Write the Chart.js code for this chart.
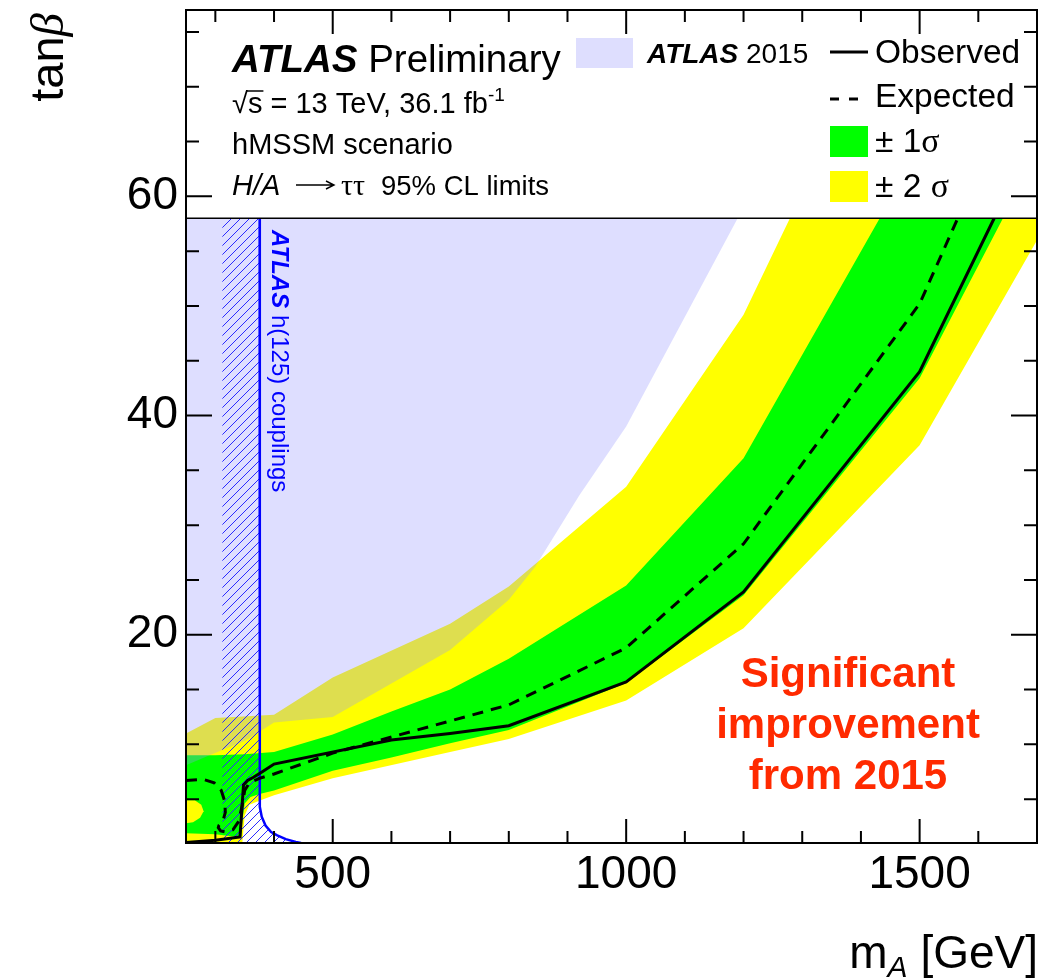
<!DOCTYPE html>
<html>
<head>
<meta charset="utf-8">
<title>hMSSM H/A → ττ exclusion</title>
<script src="https://cdn.jsdelivr.net/npm/chart.js@4.4.1/dist/chart.umd.min.js"></script>
<style>
  html, body { margin: 0; padding: 0; background: #fff; }
  #c { display: block; }
</style>
</head>
<body>
<canvas id="c" width="1063" height="980"></canvas>
<script>
// ---- 95% CL limits on tanβ versus m_A (GeV), hMSSM scenario ----

// observed limit
const massObserved = [250, 300, 342, 348, 355, 365, 380, 400, 600, 700, 800, 1000, 1200, 1500, 1627];
const tanbObserved = [1.05, 1.25, 1.55, 6.3, 6.7, 7.0, 7.5, 8.2, 10.4, 11.0, 11.7, 15.7, 23.9, 44.0, 58];

// expected limit (contour, traced in order)
const massExpected = [250, 280, 298, 310, 316, 317, 313, 306, 305, 309, 318, 330, 340, 346, 350, 358, 375, 400, 500, 800, 1000, 1200, 1500, 1565];
const tanbExpected = [6.7, 6.8, 6.5, 5.8, 4.8, 3.8, 3.0, 2.6, 2.4, 2.1, 2.0, 2.2, 3.0, 4.5, 5.8, 6.5, 6.9, 7.3, 9.2, 13.6, 18.8, 28.3, 50.2, 58];

// ±1σ band: upper edge (left to right), lower edge (right to left)
const massBand1Upper = [250, 300, 350, 400, 500, 600, 700, 800, 1000, 1200, 1432];
const tanbBand1Upper = [9.0, 9.0, 9.1, 9.3, 10.9, 13.0, 15.0, 17.8, 24.5, 36.1, 58];
const massBand1Lower = [1642, 1500, 1200, 1000, 800, 700, 600, 500, 400, 377, 360, 350, 346, 344, 300, 250];
const tanbBand1Lower = [58, 43.4, 23.6, 15.6, 11.3, 10.1, 8.8, 7.6, 5.8, 5.5, 5.2, 4.6, 3.0, 1.5, 1.8, 1.9];

// ±2σ band: upper edge (left to right), lower edge (right to left)
const massBand2Upper = [250, 300, 400, 500, 700, 800, 1000, 1200, 1279];
const tanbBand2Upper = [11.0, 12.4, 12.7, 16.1, 21.0, 24.4, 33.5, 49.2, 58];
const massBand2Lower = [1700, 1700, 1500, 1200, 1000, 800, 700, 500, 400, 377, 358, 350, 346, 250];
const tanbBand2Lower = [58, 56.0, 37.3, 20.6, 14.0, 10.5, 9.3, 6.9, 5.35, 4.9, 4.5, 3.5, 1.0, 1.0];

// ±2σ island at low m_A
const massBand2Island = [250, 262, 274, 280, 276, 265, 250];
const tanbBand2Island = [2.8, 2.9, 3.3, 3.9, 4.5, 4.9, 4.9];

// ATLAS 2015 exclusion (excluded above this boundary)
const mass2015 = [250, 290, 350, 400, 500, 700, 800, 845, 920, 1000, 1190];
const tanb2015 = [8.1, 9.0, 10.3, 12.0, 12.5, 18.6, 23.2, 26.2, 32.7, 39.0, 58];

// ATLAS h(125) couplings exclusion boundary (excluded to the left)
const massH125 = [375.5, 375.5, 376, 379, 385.5, 395, 405.5, 420, 437, 446];
const tanbH125 = [58, 5.5, 4.3, 3.4, 2.6, 2.0, 1.7, 1.35, 1.1, 1.0];
const massH125Edge = [312, 312];
const tanbH125Edge = [58, 1];

// axes
const massRange = [250, 1700];
const tanbRange = [1, 77];
const tanbLegendFloor = 58;
const xMajorTicks = [500, 1000, 1500];
const yMajorTicks = [20, 40, 60];
const xMinorStep = 100;
const yMinorStep = 5;

// ---------------------------------------------------------------
const SANS = '"Liberation Sans", Arial, Helvetica, sans-serif';
const SERIF = '"Liberation Serif", "Times New Roman", serif';

const pts = (xs, ys) => xs.map((x, i) => ({ x, y: ys[i] }));
const clear = 'rgba(0,0,0,0)';

const canvas = document.getElementById('c');
const ctx0 = canvas.getContext('2d');

function hatchPattern() {
  const s = 9;
  const c = document.createElement('canvas');
  c.width = s; c.height = s;
  const g = c.getContext('2d');
  g.strokeStyle = '#2a2aff';
  g.lineWidth = 1;
  g.beginPath();
  g.moveTo(0, s); g.lineTo(s, 0);
  g.moveTo(-2, 2); g.lineTo(2, -2);
  g.moveTo(s - 2, s + 2); g.lineTo(s + 2, s - 2);
  g.stroke();
  return ctx0.createPattern(c, 'repeat');
}

function richWidth(ctx, parts) {
  let w = 0;
  for (const p of parts) { ctx.font = p.font; w += ctx.measureText(p.t).width; }
  return w;
}
function richText(ctx, x, y, parts) {
  let cx = x;
  for (const p of parts) {
    ctx.font = p.font;
    ctx.fillText(p.t, cx, y + (p.dy || 0));
    cx += ctx.measureText(p.t).width;
  }
  return cx;
}
function hline(ctx, x1, x2, y) {
  ctx.beginPath(); ctx.moveTo(x1, y); ctx.lineTo(x2, y); ctx.stroke();
}
function arrow(ctx, x1, x2, y) {
  ctx.save();
  ctx.lineWidth = 1.4;
  ctx.beginPath();
  ctx.moveTo(x1, y); ctx.lineTo(x2, y);
  ctx.moveTo(x2 - 8, y - 4); ctx.lineTo(x2, y); ctx.lineTo(x2 - 8, y + 4);
  ctx.stroke();
  ctx.restore();
}

const rootStyle = {
  id: 'rootStyle',
  afterDatasetsDraw(chart) {
    const { ctx, chartArea: a, scales: { x, y } } = chart;
    ctx.save();

    // legend pad
    const yPad = y.getPixelForValue(tanbLegendFloor);
    ctx.fillStyle = '#fff';
    ctx.fillRect(a.left, a.top, a.right - a.left, yPad - a.top);
    ctx.strokeStyle = '#000';
    ctx.lineWidth = 1.5;
    hline(ctx, a.left, a.right, yPad);

    // frame
    ctx.lineWidth = 2;
    ctx.strokeRect(a.left, a.top, a.right - a.left, a.bottom - a.top);

    // inner ticks on all four sides
    ctx.beginPath();
    for (let v = Math.ceil(tanbRange[0] / yMinorStep) * yMinorStep; v < tanbRange[1]; v += yMinorStep) {
      if (v <= tanbRange[0]) continue;
      const py = y.getPixelForValue(v);
      const len = yMajorTicks.includes(v) ? 26 : 13;
      ctx.moveTo(a.left, py); ctx.lineTo(a.left + len, py);
      ctx.moveTo(a.right, py); ctx.lineTo(a.right - len, py);
    }
    for (let v = Math.ceil(massRange[0] / xMinorStep) * xMinorStep; v < massRange[1]; v += xMinorStep) {
      if (v <= massRange[0]) continue;
      const px = x.getPixelForValue(v);
      const len = xMajorTicks.includes(v) ? 24 : 12;
      ctx.moveTo(px, a.bottom); ctx.lineTo(px, a.bottom - len);
      ctx.moveTo(px, a.top); ctx.lineTo(px, a.top + len);
    }
    ctx.stroke();

    // labels in the legend pad
    ctx.fillStyle = '#000';
    ctx.textAlign = 'left';
    ctx.textBaseline = 'alphabetic';
    richText(ctx, 232, 72, [
      { t: 'ATLAS', font: `italic bold 38.5px ${SANS}` },
      { t: ' Preliminary', font: `38.5px ${SANS}` }
    ]);

    const fTxt = `29px ${SANS}`;
    ctx.font = fTxt;
    const wRoot = ctx.measureText('√').width;
    const wS = ctx.measureText('s').width;
    ctx.fillText('√', 232, 113);
    ctx.fillText('s', 232 + wRoot, 113);
    ctx.lineWidth = 1.5;
    hline(ctx, 232 + wRoot - 1, 232 + wRoot + wS + 1, 113 - 22);
    richText(ctx, 232 + wRoot + wS, 113, [
      { t: ' = 13 TeV, 36.1 fb', font: fTxt },
      { t: '-1', font: `19px ${SANS}`, dy: -12 }
    ]);
    richText(ctx, 232, 154, [{ t: 'hMSSM scenario', font: fTxt }]);
    richText(ctx, 232, 195, [{ t: 'H/A', font: `italic 29px ${SANS}` }]);
    arrow(ctx, 296, 334, 185);
    richText(ctx, 341, 195, [{ t: '\u03c4\u03c4', font: `30px ${SERIF}` }]);
    richText(ctx, 381, 195, [{ t: '95% CL limits', font: `27.5px ${SANS}` }]);

    // legend entries
    ctx.fillStyle = 'rgb(222,222,254)';
    ctx.fillRect(576, 38, 57, 30);
    ctx.fillStyle = '#000';
    richText(ctx, 647, 63, [
      { t: 'ATLAS', font: `italic bold 28px ${SANS}` },
      { t: ' 2015', font: `28px ${SANS}` }
    ]);
    ctx.lineWidth = 3;
    hline(ctx, 830, 868, 52);
    hline(ctx, 830, 839, 99);
    hline(ctx, 849, 858, 99);
    const f33 = `33.5px ${SANS}`;
    richText(ctx, 875, 63, [{ t: 'Observed', font: f33 }]);
    richText(ctx, 875, 107, [{ t: 'Expected', font: f33 }]);
    ctx.fillStyle = '#00ff00';
    ctx.fillRect(830, 126, 38, 31);
    ctx.fillStyle = '#ffff00';
    ctx.fillRect(830, 171, 38, 31);
    ctx.fillStyle = '#000';
    richText(ctx, 875, 152, [{ t: '\u00b1 1', font: f33 }, { t: '\u03c3', font: `34px ${SERIF}` }]);
    richText(ctx, 875, 197, [{ t: '\u00b1 2 ', font: f33 }, { t: '\u03c3', font: `34px ${SERIF}` }]);

    // h(125) couplings label along the boundary
    ctx.save();
    ctx.translate(272, 230);
    ctx.rotate(Math.PI / 2);
    ctx.fillStyle = '#0000ff';
    richText(ctx, 0, 0, [
      { t: 'ATLAS', font: `italic bold 24px ${SANS}` },
      { t: ' h(125) couplings', font: `24px ${SANS}` }
    ]);
    ctx.restore();

    // annotation
    ctx.fillStyle = '#ff2a00';
    ctx.textAlign = 'center';
    ctx.font = `bold 42px ${SANS}`;
    ctx.fillText('Significant', 848, 687);
    ctx.fillText('improvement', 848, 738);
    ctx.fillText('from 2015', 848, 789);

    // axis titles
    ctx.fillStyle = '#000';
    ctx.textAlign = 'left';
    const yTitle = [{ t: 'tan', font: `47px ${SANS}` }, { t: '\u03b2', font: `italic 47px ${SERIF}` }];
    ctx.save();
    ctx.translate(63, 13);
    ctx.rotate(-Math.PI / 2);
    richText(ctx, -richWidth(ctx, yTitle), 0, yTitle);
    ctx.restore();

    const xTitle = [
      { t: 'm', font: `46px ${SANS}` },
      { t: 'A', font: `italic 30px ${SANS}`, dy: 9 },
      { t: ' [GeV]', font: `46px ${SANS}` }
    ];
    richText(ctx, 1038 - richWidth(ctx, xTitle), 968, xTitle);

    ctx.restore();
  }
};

const noLine = { borderColor: clear, borderWidth: 0, pointRadius: 0 };

new Chart(canvas, {
  type: 'line',
  data: {
    datasets: [
      { label: 'Observed', data: pts(massObserved, tanbObserved), borderColor: '#000', borderWidth: 3,
        pointRadius: 0, fill: false, order: 0 },
      { label: 'Expected', data: pts(massExpected, tanbExpected), borderColor: '#000', borderWidth: 3,
        borderDash: [11, 8], pointRadius: 0, fill: false, order: 1 },
      { label: 'ATLAS h(125) couplings', data: pts(massH125, tanbH125), borderColor: '#0000ff', borderWidth: 2.5,
        pointRadius: 0, fill: false, order: 2 },
      { label: 'h(125) excluded side', ...noLine,
        data: pts(massH125Edge, tanbH125Edge).concat(pts(massH125, tanbH125).reverse()),
        backgroundColor: hatchPattern(), fill: 'shape', order: 3 },
      { label: 'ATLAS 2015', ...noLine, data: pts(mass2015, tanb2015),
        backgroundColor: 'rgba(148,148,255,0.31)', fill: 'end', order: 4 },
      { label: '±2σ island', ...noLine, data: pts(massBand2Island, tanbBand2Island),
        backgroundColor: '#ffff00', fill: 'shape', order: 5 },
      { label: '±1σ', ...noLine,
        data: pts(massBand1Upper, tanbBand1Upper).concat(pts(massBand1Lower, tanbBand1Lower)),
        backgroundColor: '#00ff00', fill: 'shape', order: 6 },
      { label: '±2σ', ...noLine,
        data: pts(massBand2Upper, tanbBand2Upper).concat(pts(massBand2Lower, tanbBand2Lower)),
        backgroundColor: '#ffff00', fill: 'shape', order: 7 }
    ]
  },
  options: {
    responsive: false,
    maintainAspectRatio: false,
    devicePixelRatio: 1,
    animation: false,
    events: [],
    layout: { padding: { top: 10, right: 26, bottom: 0, left: 0 } },
    elements: { line: { tension: 0 } },
    plugins: { legend: { display: false }, tooltip: { enabled: false }, title: { display: false } },
    scales: {
      x: {
        type: 'linear',
        min: massRange[0], max: massRange[1],
        grid: { display: false, drawTicks: false },
        border: { display: false },
        afterBuildTicks: s => { s.ticks = xMajorTicks.map(v => ({ value: v })); },
        afterFit: s => { s.height = 137; s.paddingLeft = 0; s.paddingRight = 0; },
        ticks: { color: '#000', font: { family: SANS, size: 46 }, padding: 5, maxRotation: 0, autoSkip: false,
                 callback: v => String(v) }
      },
      y: {
        type: 'linear',
        min: tanbRange[0], max: tanbRange[1],
        grid: { display: false, drawTicks: false },
        border: { display: false },
        afterBuildTicks: s => { s.ticks = yMajorTicks.map(v => ({ value: v })); },
        afterFit: s => { s.width = 186; s.paddingTop = 0; s.paddingBottom = 0; },
        ticks: { color: '#000', font: { family: SANS, size: 46 }, padding: 8, callback: v => String(v) }
      }
    }
  },
  plugins: [rootStyle]
});
</script>
</body>
</html>
